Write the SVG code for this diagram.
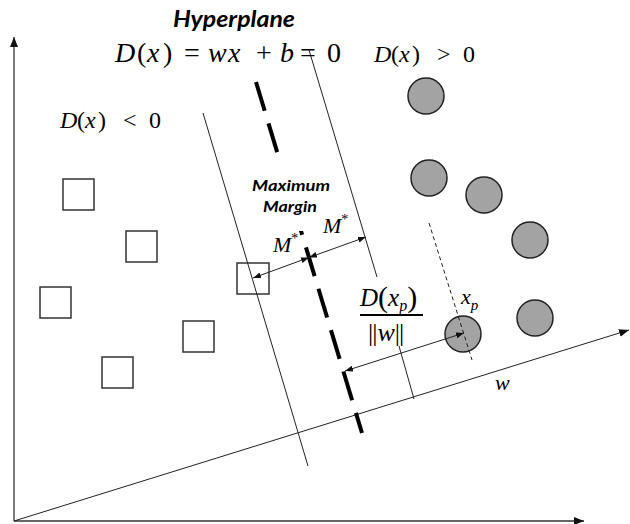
<svg xmlns="http://www.w3.org/2000/svg" width="630" height="524" viewBox="0 0 630 524">
<defs>
<style>
.thin{stroke:#222;stroke-width:1;fill:none}
.axis{stroke:#333;stroke-width:1.3;fill:none}
.hyper{stroke:#000;stroke-width:4;fill:none;stroke-dasharray:30 13.2}
.xpdash{stroke:#222;stroke-width:1;fill:none;stroke-dasharray:4 3}
.sq{fill:none;stroke:#333;stroke-width:1.5}
.pt{fill:#a3a3a3;stroke:#222;stroke-width:1.5}
.math{font-family:"Liberation Serif","DejaVu Serif",serif;fill:#000}
.it{font-style:italic}
.lbl{font-family:Lato,"Liberation Sans",sans-serif;font-weight:bold;font-style:italic;fill:#000}
</style>
<marker id="ah" viewBox="0 0 10 8" refX="10" refY="4" markerWidth="10" markerHeight="8" markerUnits="userSpaceOnUse" orient="auto-start-reverse"><path d="M0,0L10,4L0,8z" fill="#111"/></marker>
<marker id="sh" viewBox="0 0 8 6" refX="8" refY="3" markerWidth="8" markerHeight="6" markerUnits="userSpaceOnUse" orient="auto-start-reverse"><path d="M0,0L8,3L0,6z" fill="#111"/></marker>
</defs>
<rect width="630" height="524" fill="#fff"/>

<g id="axes">
<line class="axis" x1="14" y1="521" x2="14" y2="37" marker-end="url(#ah)"/>
<line class="axis" x1="14" y1="521" x2="584" y2="521" marker-end="url(#ah)"/>
<line class="thin" x1="14" y1="521" x2="629" y2="330" marker-end="url(#ah)"/>
</g>

<g id="points-negative">
<g id="sq1"><rect class="sq" x="63" y="179" width="31" height="31"/></g>
<g id="sq2"><rect class="sq" x="126" y="231" width="31" height="31"/></g>
<g id="sq3"><rect class="sq" x="40" y="287" width="31" height="31"/></g>
<g id="sq4"><rect class="sq" x="183" y="321" width="31" height="31"/></g>
<g id="sq5"><rect class="sq" x="102" y="357" width="31" height="31"/></g>
<g id="sq6"><rect class="sq" x="237" y="263" width="32" height="31"/></g>
</g>

<g id="points-positive">
<g id="c1"><circle class="pt" cx="426" cy="96" r="18"/></g>
<g id="c2"><circle class="pt" cx="429" cy="178" r="18"/></g>
<g id="c3"><circle class="pt" cx="484" cy="195" r="18"/></g>
<g id="c4"><circle class="pt" cx="530" cy="240" r="18"/></g>
<g id="c5"><circle class="pt" cx="535" cy="318" r="18"/></g>
<g id="cxp"><circle class="pt" cx="463" cy="334" r="18"/></g>
</g>

<g id="connectors">
<line class="thin" x1="203" y1="113" x2="308" y2="466"/>
<line class="thin" x1="309" y1="50" x2="377" y2="277"/>
<line class="hyper" x1="256" y1="82" x2="362" y2="433"/>
<line class="xpdash" x1="429" y1="223" x2="472" y2="360"/>
<line class="thin" x1="399" y1="346" x2="414" y2="399"/>
<line class="thin" x1="309" y1="257.5" x2="253" y2="278" marker-start="url(#sh)" marker-end="url(#sh)"/>
<line class="thin" x1="309" y1="257.5" x2="366" y2="237" marker-start="url(#sh)" marker-end="url(#sh)"/>
<line class="thin" x1="345" y1="371" x2="464" y2="333" marker-start="url(#sh)" marker-end="url(#sh)"/>
</g>

<g id="margin-label">
<rect x="247" y="153" width="88" height="78" fill="#fff"/>
<text class="lbl" x="291" y="191" font-size="15" text-anchor="middle" textLength="78" lengthAdjust="spacingAndGlyphs">Maximum</text>
<text class="lbl" x="290" y="212" font-size="15" text-anchor="middle" textLength="54" lengthAdjust="spacingAndGlyphs">Margin</text>
</g>

<g id="labels">
<text class="lbl" x="173" y="27" font-size="22" textLength="122" lengthAdjust="spacingAndGlyphs">Hyperplane</text>
<text class="math" y="62" font-size="28"><tspan class="it" x="115">D</tspan><tspan x="137">(</tspan><tspan class="it" x="147">x</tspan><tspan x="163">)</tspan><tspan x="184">=</tspan><tspan class="it" x="208">w</tspan><tspan class="it" x="228">x</tspan><tspan x="256">+</tspan><tspan class="it" x="280">b</tspan><tspan x="300">=</tspan><tspan x="327">0</tspan></text>
<text class="math" y="128" font-size="24"><tspan class="it" x="60">D</tspan><tspan x="77">(</tspan><tspan class="it" x="85">x</tspan><tspan x="98">)</tspan><tspan x="123">&lt;</tspan><tspan x="149">0</tspan></text>
<text class="math" y="62" font-size="24"><tspan class="it" x="374">D</tspan><tspan x="391">(</tspan><tspan class="it" x="399">x</tspan><tspan x="412">)</tspan><tspan x="437">&gt;</tspan><tspan x="463">0</tspan></text>
<text class="math it" x="273" y="252" font-size="22">M<tspan font-size="14" dy="-9" font-style="normal">*</tspan></text>
<text class="math it" x="323" y="233" font-size="22">M<tspan font-size="14" dy="-9" font-style="normal">*</tspan></text>
<text class="math" x="360" y="306" font-size="25"><tspan class="it">D</tspan><tspan font-size="30" dy="1">(</tspan><tspan class="it" dy="-1">x</tspan><tspan class="it" font-size="16" dy="5">p</tspan><tspan font-size="30" dy="-4">)</tspan></text>
<line x1="360" y1="315" x2="423" y2="315" stroke="#000" stroke-width="2"/>
<text class="math" x="368" y="341" font-size="26">|<tspan dx="-1">|</tspan><tspan class="it">w</tspan>|<tspan dx="-1">|</tspan></text>
<text class="math it" x="461" y="304" font-size="22">x<tspan font-size="15" dy="6">p</tspan></text>
<text class="math it" x="495" y="390" font-size="22">w</text>
</g>
</svg>
